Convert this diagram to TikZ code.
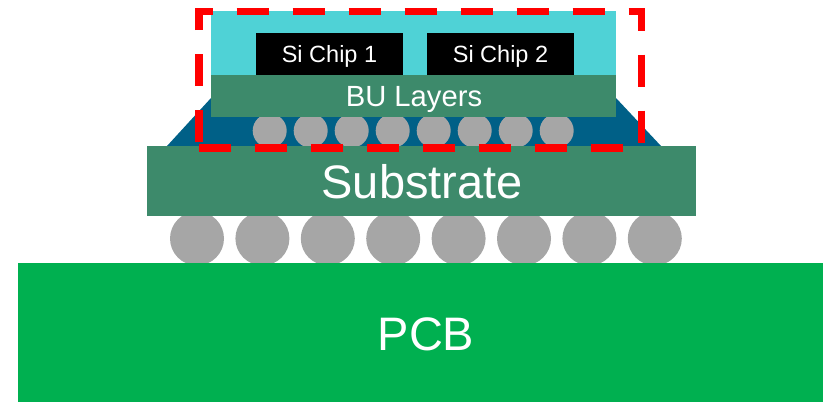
\documentclass[tikz,border=0pt]{standalone}
\usepackage{fontspec}
\setmainfont{Liberation Sans}
\definecolor{moldCyan}{HTML}{4FD2D6}
\definecolor{layerGreen}{HTML}{3D8A6B}
\definecolor{pcbGreen}{HTML}{00B050}
\definecolor{fillBlue}{HTML}{006087}
\definecolor{bumpGray}{HTML}{A6A6A6}
\definecolor{frameRed}{HTML}{FF0000}

\begin{document}
\begin{tikzpicture}
[x=1pt,y=-1pt,
  layerDecorate/.style={shape=rectangle,inner sep=0pt,text=white,minimum width=#1},%
  bumpDecorate/.style={shape=circle,inner sep=0pt,fill=bumpGray,minimum size=#1}]
\useasboundingbox (0,0) rectangle (823,402);
%% underfill
\fill[fillBlue] (167,146) -- (211,98) -- (616,98) -- (661,146) -- cycle;
%% bumps
\foreach \i in {0,...,7}
{
  \node (Micro\i) at (269.7+41*\i,130.7) [bumpDecorate=34pt] {};
  \node (Ball\i) at (197+65.4*\i,238.5) [bumpDecorate=54pt] {};
}
%% layers
\node (Mold) at (413.5,43) [layerDecorate=405pt,minimum height=64pt,fill=moldCyan] {};
\node (BU) at (413.5,96) [layerDecorate=405pt,minimum height=42pt,fill=layerGreen] {};
\node (Substrate) at (421.5,181) [layerDecorate=549pt,minimum height=70pt,fill=layerGreen] {};
\node (PCB) at (420.5,332.5) [layerDecorate=805pt,minimum height=139pt,fill=pcbGreen] {};
%% labels
\node (BUtext) at (414,99) [text=white,font=\fontsize{29.2}{32}\selectfont] {BU Layers};
\node (Subtext) at (422.2,182) [text=white,font=\fontsize{47}{52}\selectfont] {Substrate};
\node (PCBtext) at (426,334) [text=white,font=\fontsize{47}{52}\selectfont] {PCB};
%% chips
\foreach \nodename/\x/\num in {ChipA/329.5/1, ChipB/500.5/2}
{
  \node (\nodename) at (\x,54) [layerDecorate=147pt,minimum height=42pt,fill=black] {};
  \node (\nodename text) at (\x,56.5) [text=white,font=\fontsize{23.5}{26}\selectfont] {Si Chip \num};
}
%% dashed frame
\draw[frameRed,line width=7.6pt,dash pattern=on 32pt off 24pt,miter limit=10]
  (199,142) -- (199,11.5) -- (641.5,11.5) -- (641.5,148) -- (199,148) -- cycle;
\end{tikzpicture}
\end{document}
